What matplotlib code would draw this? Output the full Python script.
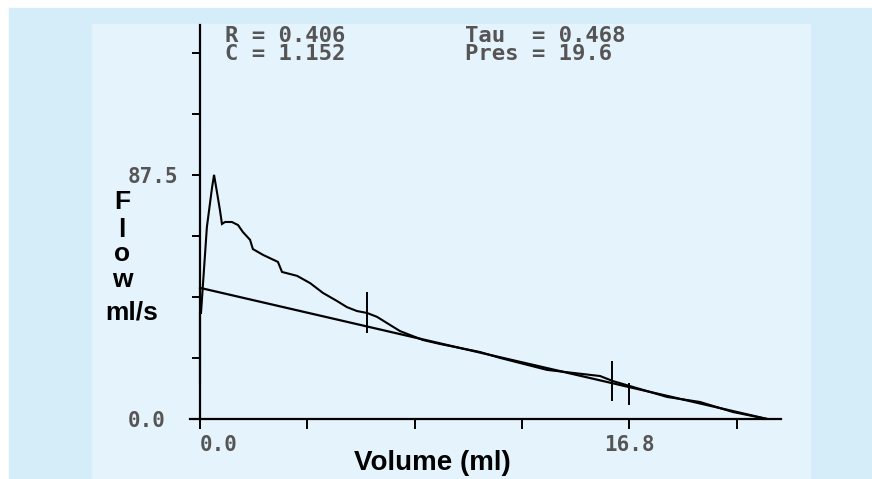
import matplotlib
matplotlib.use("Agg")
import matplotlib.pyplot as plt
from matplotlib.patches import Rectangle

# measured flow-volume curve (ml, ml/s)
volume = [0.0, 0.0, 0.04, 0.16, 0.27, 0.47, 0.55, 0.67, 0.78, 0.86, 0.98, 1.25,
          1.49, 1.68, 1.96, 2.07, 2.47, 3.05, 3.21, 3.80, 4.31, 4.81, 5.36,
          5.75, 6.14, 6.54, 6.93, 7.44, 7.83, 8.73, 9.39, 10.96, 11.74, 13.58,
          15.66, 16.16, 16.83, 18.28, 19.57, 20.86, 22.2]
flow = [12.9, 38.0, 38.0, 54.1, 68.8, 82.8, 87.5, 81.0, 74.9, 69.9, 70.6, 70.6,
        69.5, 67.0, 64.2, 60.9, 58.8, 56.3, 52.7, 51.3, 48.7, 45.2, 42.3,
        40.1, 38.7, 38.0, 36.6, 33.7, 31.5, 28.3, 26.9, 24.0, 21.9, 17.6,
        15.4, 13.6, 11.8, 7.9, 6.1, 2.5, 0.0]

# fitted line
fit_volume = [0.0, 22.2]
fit_flow = [47.0, 0.0]

# cursor marks
mark_volume = [6.52, 16.12, 16.8]
mark_low = [30.8, 6.5, 5.0]
mark_high = [45.5, 20.8, 12.9]

x_ticks = [0.0, 4.2, 8.4, 12.6, 16.8, 21.0]
x_labels = ["0.0", "", "", "", "16.8", ""]
y_ticks = [0.0, 21.875, 43.75, 65.625, 87.5, 109.375, 131.25]
y_labels = ["0.0", "", "", "", "87.5", "", ""]

header_left = "R = 0.406\nC = 1.152"
header_right = "Tau  = 0.468\nPres = 19.6"

W, H = 872, 479
fig = plt.figure(figsize=(W / 100, H / 100), dpi=100, facecolor="white")

def px(x, y):
    return x / W, 1 - y / H

# backgrounds
fig.patches.append(Rectangle(px(9, H), (W - 9) / W, (H - 8) / H,
                             transform=fig.transFigure, color="#d5ecf9", zorder=-2))
fig.patches.append(Rectangle(px(92, H), (810 - 92) / W, (H - 24) / H,
                             transform=fig.transFigure, color="#e5f3fc", zorder=-1))

ax = fig.add_axes([190 / W, 1 - 419 / H, (781 - 190) / W, (419 - 25) / H])
ax.set_facecolor("none")
ax.set_zorder(2)
ax.set_xlim(-0.391, 22.74)
ax.set_ylim(0, 141.2)

ax.plot(volume, flow, color="black", lw=1.5, solid_joinstyle="miter")
ax.plot(fit_volume, fit_flow, color="black", lw=1.6)
ax.vlines(mark_volume, mark_low, mark_high, color="black", lw=1.4)

for s in ["top", "right"]:
    ax.spines[s].set_visible(False)
ax.spines["left"].set_position(("data", 0))
ax.spines["left"].set_linewidth(1.6)
ax.spines["bottom"].set_linewidth(1.6)

mono = {"family": "DejaVu Sans Mono", "weight": "bold", "size": 15}
ax.set_xticks(x_ticks, x_labels, fontdict=mono, color="#555555")
ax.set_yticks(y_ticks, y_labels, fontdict=mono, color="#555555")
ax.tick_params(axis="x", direction="out", length=7.5, width=1.4, pad=4)
ax.tick_params(axis="y", direction="out", length=6, width=1.4, pad=46)
for lab in ax.get_yticklabels():
    lab.set_ha("left")
ax.get_xticklabels()[0].set_ha("left")

# headers
for x, t in [(225, header_left), (465, header_right)]:
    fig.text(*px(x, 26), t, fontdict=mono, color="#555555", size=16,
             va="top", linespacing=0.85)

# axis labels
lab = {"family": "Liberation Sans", "weight": "bold", "size": 19}
for ch, y in zip("Flow", [202, 230, 254, 280]):
    fig.text(*px(122, y), ch, fontdict=lab, ha="center", va="center")
fig.text(*px(132, 313), "ml/s", fontdict=lab, ha="center", va="center")
fig.text(*px(432, 463), "Volume (ml)", fontdict=lab, size=20, ha="center", va="center")

fig.savefig("out.png", dpi=100)
